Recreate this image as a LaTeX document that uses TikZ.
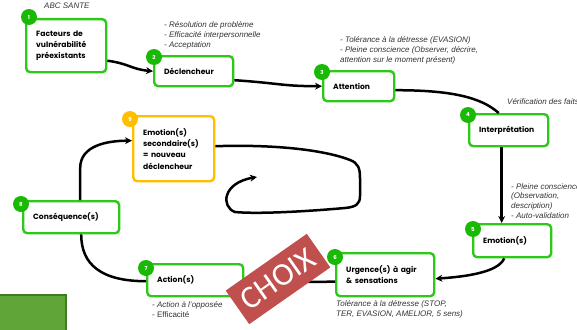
\documentclass[tikz,border=0pt]{standalone}
\usepackage{fontspec}
\setmainfont{Liberation Sans}
\newfontfamily\boxfont{Poppins}
\newfontfamily\choixfont{Carlito}
\usetikzlibrary{arrows.meta,calc}
\definecolor{gb}{RGB}{45,200,25}
\definecolor{gc}{RGB}{25,185,5}
\definecolor{ob}{RGB}{255,190,0}
\definecolor{gfill}{RGB}{95,165,55}
\definecolor{gdark}{RGB}{60,125,35}
\definecolor{choixred}{RGB}{192,80,77}
\tikzset{
  gbox/.style={draw=gb, line width=2.4pt, rounded corners=4pt, fill=white, anchor=north west,
    inner xsep=10pt, inner ysep=0pt, align=left, font=\boxfont\bfseries\fontsize{7.6}{11.4}\selectfont},
  obox/.style={gbox, draw=ob},
  num/.style={circle, fill=gc, text=white, minimum size=16pt, inner sep=0pt,
    font=\boxfont\bfseries\fontsize{5.5}{6}\selectfont},
  onum/.style={num, fill=ob},
  note/.style={anchor=north west, inner sep=0pt, align=left, text=black!80,
    font=\itshape\fontsize{8}{10}\selectfont},
  arr/.style={line width=2.5pt, -{Stealth[length=7pt,width=7pt]}},
  lin/.style={line width=2.5pt},
  choixbox/.style={fill=choixred, text=white, minimum width=99pt, minimum height=41pt,
    inner sep=0pt, font=\choixfont\fontsize{32}{32}\selectfont}
}
\begin{document}
\begin{tikzpicture}[x=1pt,y=-1pt]
\useasboundingbox (0,0) rectangle (577,329);
% boxes
\node[gbox, minimum width=80pt, minimum height=53pt, text width=60pt] (b1) at (25,18) {Facteurs de\\vulnérabilité\\préexistants};
\node[gbox, minimum width=79pt, minimum height=30pt, text width=59pt] (b2) at (153,55) {Déclencheur};
\node[gbox, minimum width=71pt, minimum height=30pt, text width=51pt] (b3) at (322,70) {Attention};
\node[gbox, minimum width=79pt, minimum height=32pt, text width=59pt] (b4) at (468,113) {Interprétation};
\node[gbox, minimum width=78pt, minimum height=33pt, text width=58pt] (b5) at (472,223) {Emotion(s)};
\node[gbox, minimum width=98pt, minimum height=43pt, text width=78pt] (b6) at (335,252) {Urgence(s) à agir\\\& sensations};
\node[gbox, minimum width=96pt, minimum height=32pt, text width=76pt] (b7) at (146,263) {Action(s)};
\node[gbox, minimum width=96pt, minimum height=32pt, text width=76pt] (b8) at (22,200) {Conséquence(s)};
\node[obox, minimum width=81pt, minimum height=65pt, text width=61pt] (b9) at (132,115) {Emotion(s)\\secondaire(s)\\= nouveau\\déclencheur};
% number circles
\node[num] (c1) at (29,17) {1};
\node[num] (c2) at (154,57) {2};
\node[num] (c3) at (322,72) {3};
\node[num] (c4) at (468,115) {4};
\node[num] (c5) at (473,229) {5};
\node[num] (c6) at (335,257) {6};
\node[num] (c7) at (146,268) {7};
\node[num] (c8) at (21,204) {8};
\node[onum] (c9) at (130,119) {9};
% notes
\node[note] (n0) at (44,3) {ABC SANTE};
\node[note] (n2) at (164,21) {- Résolution de problème\\- Efficacité interpersonnelle\\- Acceptation};
\node[note] (n3) at (340,36) {- Tolérance à la détresse (EVASION)\\- Pleine conscience (Observer, décrire,\\attention sur le moment présent)};
\node[note] (n4) at (507,98) {Vérification des faits};
\node[note, font=\itshape\fontsize{8}{9.7}\selectfont] (n5) at (511,183) {- Pleine conscience\\(Observation,\\description)\\- Auto-validation};
\node[note] (n6) at (336,300) {Tolérance à la détresse (STOP,\\TER, EVASION, AMELIOR, 5 sens)};
\node[note] (n7) at (152,301) {- Action à l'opposée\\{\upshape - Efficacité}};
% connectors
\draw[arr] ([yshift=-15pt]b1.east) .. controls +(22,3) and +(-22,-2) .. (b2.west);
\draw[arr] ([yshift=-9pt]b2.east) .. controls +(45,3) and +(-40,0) .. (b3.west);
\draw[lin] ([yshift=-4pt]b3.east) .. controls +(55,0) and +(-18,-16) .. ([xshift=-10pt]b4.north);
\draw[arr] ([xshift=-7pt]b4.south) -- ([xshift=-7pt]b4.south |- b5.north);
\draw[arr] ([xshift=-8pt]b5.south) .. controls +(-6,14) and +(30,-2) .. ([yshift=-4pt]b6.east);
\draw[arr] ([yshift=-7pt]b6.west) -- ([yshift=-2pt]b7.east);
\draw[lin] ([yshift=-1pt]b7.west) .. controls +(-45,0) and +(0,30) .. ([xshift=10pt]b8.south);
\draw[arr] ([xshift=9pt]b8.north) -- ++(0,-32) .. controls +(0,-22) and +(-26,0) .. ([yshift=8pt]b9.west);
\coordinate (loopend) at (257,177);
\draw[arr] ([yshift=2.5pt]b9.east) .. controls (285,144) and (330,152) .. (350,160)
  .. controls (358,163) and (360,168) .. (360,178) -- (360,196)
  .. controls (360,204) and (356,207) .. (345,208)
  .. controls (300,212) and (255,214) .. (235,212)
  .. controls (221,207) and (222,183) .. (loopend);
% CHOIX
\node[choixbox, rotate=35] (choix) at (278,279) {CHOIX};
% green block
\draw[line width=2.5pt, draw=gdark, fill=gfill] (-3,295) rectangle (66,333);
\end{tikzpicture}
\end{document}
